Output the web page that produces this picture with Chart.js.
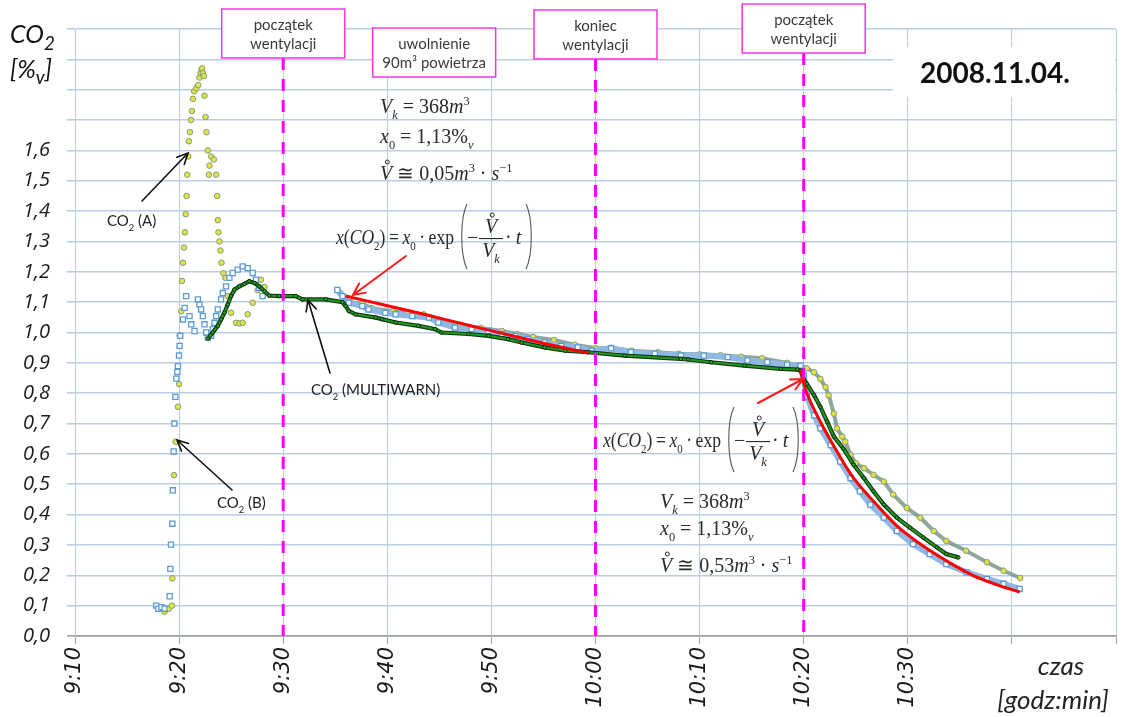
<!doctype html>
<html lang="pl">
<head>
<meta charset="utf-8">
<title>CO2 - 2008.11.04.</title>
<style>
  html, body { margin: 0; padding: 0; background: #fff; }
  .chart-container { width: 1125px; height: 717px; }
</style>
<script src="https://cdn.jsdelivr.net/npm/chart.js@4.4.0/dist/chart.umd.min.js"></script>
</head>
<body>
<div class="chart-container"><canvas id="co2Chart"></canvas></div>
<script>
// czas w minutach po godz. 9:00, stężenie CO2 w %v
const timeA = [18.2, 18.6, 19.0, 19.3, 19.35, 19.51, 19.67, 19.89, 19.99, 20.05, 20.21,
  20.27, 20.37, 20.47, 20.56, 20.63, 20.72, 20.78, 20.88, 20.94, 21.04, 21.14, 21.23, 21.33,
  21.45, 21.65, 21.84, 21.96, 22.06, 22.16, 22.22, 22.28, 22.38, 22.44, 22.54, 22.63, 22.76,
  22.86, 22.92, 23.08, 23.34, 23.56, 23.66, 23.72, 23.78, 23.88, 23.97, 24.07, 24.26, 24.45,
  24.67, 24.99, 25.47, 25.8, 26.11, 26.59, 27.07, 27.54, 27.86, 28.2,
  31.0,
  35.5, 36.5, 37.6, 38.5, 40.5, 42.0, 43.5, 45.0, 47.0, 49.0, 51.0, 52.5, 54.0, 56.0, 58.0,
  60.0, 61.5, 63.5, 66.0, 68.0, 70.0, 72.0, 74.0, 76.0, 78.4, 79.7,
  80.3, 81.0, 81.6, 82.1, 82.4, 82.9, 83.2, 83.7, 84.0, 84.5, 85.0, 85.8, 86.7, 87.7, 88.6,
  89.9, 91.2, 92.5, 93.7, 95.6, 97.6, 99.2, 100.8];
const co2A = [0.09, 0.08, 0.09, 0.10, 0.19, 0.53, 0.64, 0.755, 0.83, 0.99, 1.07,
  1.17, 1.23, 1.28, 1.33, 1.39, 1.45, 1.52, 1.58, 1.63, 1.66, 1.70, 1.73, 1.77,
  1.795, 1.805, 1.815, 1.84, 1.855, 1.868, 1.87, 1.855, 1.845, 1.78, 1.71, 1.66, 1.60,
  1.52, 1.55, 1.58, 1.57, 1.52, 1.45, 1.37, 1.33, 1.30, 1.27, 1.23, 1.195, 1.18,
  1.12, 1.065, 1.032, 1.03, 1.032, 1.06, 1.098, 1.14, 1.174, 1.15,
  null,
  1.13, 1.10, 1.095, 1.08, 1.07, 1.065, 1.06, 1.04, 1.025, 1.015, 1.005, 0.995, 0.985, 0.975, 0.96,
  0.948, 0.95, 0.94, 0.935, 0.93, 0.928, 0.925, 0.92, 0.915, 0.90, 0.891,
  0.882, 0.869, 0.847, 0.82, 0.793, 0.733, 0.684, 0.657, 0.64, 0.597, 0.569, 0.553, 0.531, 0.509, 0.466,
  0.422, 0.39, 0.346, 0.313, 0.281, 0.243, 0.215, 0.191];

const timeB = [17.8, 18.0, 18.3, 18.6, 19.09, 19.16, 19.22, 19.35, 19.4, 19.48, 19.54, 19.64,
  19.73, 19.83, 19.89, 19.99, 20.05, 20.11, 20.37, 20.53, 20.68, 21.0, 21.16, 21.48, 21.8,
  21.96, 22.12, 22.28, 22.44, 22.6, 22.76, 23.08, 23.24, 23.4, 23.56, 23.72, 24.03, 24.2,
  24.51, 24.83, 25.15, 25.63, 26.11, 26.59, 27.07, 27.38, 27.7, 28.02,
  31.0,
  35.2, 35.7, 36.3, 37.6, 38.2, 39.8, 40.8, 42.4, 44.0, 44.9, 46.5, 48.1, 49.7, 51.0, 52.3,
  53.5, 55.1, 56.7, 58.3, 59.6, 61.5, 63.4, 65.7, 68.2, 70.4, 72.7, 74.6, 76.5, 78.4, 79.7,
  80.0, 80.3, 81.0, 81.6, 82.6, 83.5, 84.5, 85.4, 86.4, 87.7, 88.95, 90.5, 92.1, 93.7, 95.65,
  97.6, 99.2, 100.75];
const co2B = [0.10, 0.09, 0.095, 0.09, 0.131, 0.221, 0.301, 0.37, 0.48, 0.608, 0.70, 0.788,
  0.848, 0.87, 0.889, 0.924, 0.956, 0.989, 1.043, 1.081, 1.12, 1.054, 1.027, 1.005, 1.109,
  1.092, 1.076, 1.054, 1.027, 1.0, 0.983, 0.989, 1.011, 1.032, 1.054, 1.076, 1.109, 1.13,
  1.152, 1.18, 1.196, 1.207, 1.218, 1.212, 1.196, 1.174, 1.147, 1.12,
  null,
  1.14, 1.12, 1.098, 1.087, 1.076, 1.065, 1.06, 1.054, 1.049, 1.033, 1.016, 1.011, 1.005, 0.995, 0.989,
  0.978, 0.967, 0.956, 0.951, 0.94, 0.948, 0.935, 0.93, 0.924, 0.924, 0.919, 0.908, 0.902, 0.894, 0.891,
  0.858, 0.79, 0.727, 0.684, 0.629, 0.575, 0.52, 0.477, 0.433, 0.39, 0.346, 0.303, 0.27, 0.237, 0.21,
  0.188, 0.172, 0.155];

const timeM = [22.76, 23.24, 23.72, 24.03, 24.35, 24.67, 24.99, 25.31, 25.79, 26.27,
  26.75, 27.23, 27.7, 28.2, 28.66, 29.6, 31.2, 31.85, 34.1, 35.7,
  36.0, 36.3, 36.95, 38.9, 39.5, 40.8, 43.0, 44.6, 45.2, 47.8,
  49.7, 51.6, 52.9, 55.1, 57.1, 59.3, 62.8, 68.2, 68.9, 71.1,
  74.3, 77.8, 79.4, 79.7, 80.0, 80.3, 81.0, 81.6, 82.25, 82.9,
  83.8, 84.8, 85.8, 86.7, 87.7, 88.95, 90.2, 91.5, 92.8, 93.7, 94.85];
const co2M = [0.98, 1.0, 1.022, 1.043, 1.065, 1.092, 1.12, 1.141, 1.152, 1.16,
  1.169, 1.163, 1.152, 1.136, 1.122, 1.12, 1.12, 1.109, 1.109, 1.10,
  1.087, 1.071, 1.06, 1.049, 1.044, 1.033, 1.022, 1.011, 1.0, 0.995,
  0.989, 0.978, 0.967, 0.951, 0.94, 0.935, 0.924, 0.913, 0.911, 0.902,
  0.891, 0.88, 0.878, 0.874, 0.847, 0.831, 0.793, 0.755, 0.706, 0.657,
  0.618, 0.564, 0.52, 0.477, 0.433, 0.39, 0.357, 0.324, 0.292, 0.27, 0.259];

// krzywe dopasowania x(CO2) = x0 * exp(-V/Vk * t)
const timeFit1 = [36.0, 39.8, 44.0, 47.8, 51.9, 55.1, 59.3];
const co2Fit1 = [1.12, 1.09, 1.056, 1.024, 0.99, 0.964, 0.932];
const timeFit2 = [79.7, 80.3, 81.6, 83.2, 84.8, 86.7, 88.95, 91.2, 93.7, 96.3, 98.8, 100.75];
const co2Fit2 = [0.875, 0.80, 0.706, 0.608, 0.52, 0.444, 0.363, 0.303, 0.248, 0.199, 0.166, 0.145];

// zdarzenia (linie przerywane)
const eventTimes = [30, 44.5, 60, 80];
const eventLabels = [['początek', 'wentylacji'], ['uwolnienie', '90m³ powietrza'], ['koniec', 'wentylacji'], ['początek', 'wentylacji']];
const eventLine = [true, false, true, true];

const dateLabel = '2008.11.04.';

function pairs(t, v) {
	return t.map((x, i) => ({ x: x, y: v[i] }));
}
function clock(v) {
	const h = 9 + Math.floor(v / 60);
	const m = Math.round(v % 60);
	return h + ':' + (m < 10 ? '0' + m : m);
}

// tekst z indeksami dolnymi/górnymi
function drawRuns(ctx, x, y, runs, o) {
	const size = o.size;
	const parts = runs.map(r => {
		const s = (r.sub || r.sup) ? size * (o.subScale || 0.62) : size;
		const font = (r.i ? 'italic ' : '') + (r.b ? 'bold ' : '') + s + 'px "' + o.family + '"';
		ctx.font = font;
		return { r: r, font: font, w: ctx.measureText(r.t).width };
	});
	const total = parts.reduce((a, p) => a + p.w, 0);
	const k = o.width ? o.width / total : 1;
	const start = o.align === 'center' ? x - total * k / 2 : x;
	ctx.save();
	ctx.translate(start, y);
	ctx.scale(k, 1);
	ctx.fillStyle = o.color || '#222';
	ctx.strokeStyle = o.color || '#222';
	ctx.textBaseline = 'alphabetic';
	ctx.textAlign = 'left';
	let cx = 0;
	parts.forEach(p => {
		ctx.font = p.font;
		const dy = p.r.sub ? size * (o.subShift || 0.3) : p.r.sup ? -size * 0.42 : 0;
		ctx.fillText(p.r.t, cx, dy);
		if (p.r.ring) {
			ctx.beginPath();
			ctx.lineWidth = 1;
			ctx.arc(cx + p.w * 0.6, -size * 0.9, size * 0.1, 0, Math.PI * 2);
			ctx.stroke();
		}
		cx += p.w;
	});
	ctx.restore();
}

function paren(ctx, x, top, bot, side) {
	const b = 7 * side, h = bot - top;
	ctx.beginPath();
	ctx.moveTo(x, top);
	ctx.bezierCurveTo(x + b, top + h * 0.22, x + b, bot - h * 0.22, x, bot);
	ctx.stroke();
}

function arrow(ctx, x1, y1, x2, y2, color, width, head) {
	const a = Math.atan2(y2 - y1, x2 - x1);
	ctx.save();
	ctx.strokeStyle = color;
	ctx.lineWidth = width;
	ctx.lineCap = 'round';
	ctx.beginPath();
	ctx.moveTo(x1, y1);
	ctx.lineTo(x2, y2);
	ctx.moveTo(x2 - head * Math.cos(a - 0.45), y2 - head * Math.sin(a - 0.45));
	ctx.lineTo(x2, y2);
	ctx.lineTo(x2 - head * Math.cos(a + 0.45), y2 - head * Math.sin(a + 0.45));
	ctx.stroke();
	ctx.restore();
}

const SERIF = 'Liberation Serif';
const MATH = { size: 20, family: SERIF, color: '#2a2a2a', subScale: 0.62 };

function drawFormula(ctx, x0, base) {
	drawRuns(ctx, x0, base, [{ t: 'x', i: 1 }, { t: '(' }, { t: 'CO', i: 1 }, { t: '2', sub: 1 }, { t: ')' },
		{ t: '\u2009=\u2009' }, { t: 'x', i: 1 }, { t: '0', sub: 1 }, { t: '\u2009·\u2009exp' }], Object.assign({ width: 118 }, MATH));
	ctx.save();
	ctx.strokeStyle = '#555';
	ctx.lineWidth = 1.1;
	paren(ctx, x0 + 131, base - 40, base + 25, -1);
	paren(ctx, x0 + 190, base - 40, base + 25, 1);
	ctx.fillStyle = '#2a2a2a';
	ctx.fillRect(x0 + 143, base - 6, 24, 1.1);
	ctx.restore();
	drawRuns(ctx, x0 + 131, base, [{ t: '−' }], MATH);
	drawRuns(ctx, x0 + 155, base - 11, [{ t: 'V', i: 1, ring: 1 }], Object.assign({ align: 'center' }, MATH));
	drawRuns(ctx, x0 + 155, base + 13, [{ t: 'V', i: 1 }, { t: 'k', i: 1, sub: 1 }], Object.assign({ align: 'center' }, MATH));
	drawRuns(ctx, x0 + 169, base, [{ t: '·\u2009' }, { t: 't', i: 1 }], MATH);
}

function drawParams(ctx, x, y1, y2, y3, flow) {
	drawRuns(ctx, x, y1, [{ t: 'V', i: 1 }, { t: 'k', i: 1, sub: 1 }, { t: ' = 368' }, { t: 'm', i: 1 }, { t: '3', sup: 1 }], MATH);
	drawRuns(ctx, x, y2, [{ t: 'x', i: 1 }, { t: '0', sub: 1 }, { t: ' = 1,13%' }, { t: 'v', i: 1, sub: 1 }], MATH);
	drawRuns(ctx, x, y3, [{ t: 'V', i: 1, ring: 1 }, { t: ' ≅ ' + flow }, { t: 'm', i: 1 }, { t: '3', sup: 1 }, { t: ' · ' }, { t: 's', i: 1 }, { t: '−1', sup: 1 }], MATH);
}

const decorPlugin = {
	id: 'decor',
	beforeDatasetsDraw(chart) {
		const ctx = chart.ctx;
		ctx.save();
		ctx.fillStyle = '#fff';
		ctx.fillRect(893, 47, 222, 50);
		ctx.restore();
	},
	afterDatasetsDraw(chart) {
		const ctx = chart.ctx;
		const xs = chart.scales.x;
		const area = chart.chartArea;
		const boxTop = [9, 28, 10, 4];
		const bw = 123, bh = 49;

		// linie przerywane i opisy zdarzeń
		eventTimes.forEach((t, i) => {
			const px = xs.getPixelForValue(t);
			if (eventLine[i]) {
				ctx.save();
				ctx.strokeStyle = '#ff00ff';
				ctx.lineWidth = 3;
				ctx.setLineDash([12, 9]);
				ctx.beginPath();
				ctx.moveTo(px, boxTop[i] + bh);
				ctx.lineTo(px, area.bottom);
				ctx.stroke();
				ctx.restore();
			}
			ctx.save();
			ctx.fillStyle = '#fff';
			ctx.strokeStyle = '#ff33dd';
			ctx.lineWidth = 1.5;
			ctx.fillRect(px - bw / 2, boxTop[i], bw, bh);
			ctx.strokeRect(px - bw / 2, boxTop[i], bw, bh);
			ctx.fillStyle = '#3a3a3a';
			ctx.font = '15px Lato';
			ctx.textAlign = 'center';
			ctx.textBaseline = 'middle';
			ctx.fillText(eventLabels[i][0], px, boxTop[i] + 16);
			ctx.fillText(eventLabels[i][1], px, boxTop[i] + 35);
			ctx.restore();
		});

		// data
		ctx.save();
		ctx.fillStyle = '#111';
		ctx.font = 'bold 28px Lato';
		ctx.textAlign = 'center';
		ctx.textBaseline = 'middle';
		ctx.fillText(dateLabel, 995, 74);
		ctx.restore();

		// tytuły osi
		drawRuns(ctx, 10, 43, [{ t: 'CO', i: 1 }, { t: '2', i: 1, sub: 1 }], { size: 25, family: 'Lato', color: '#111', subScale: 0.75, subShift: 0.28 });
		drawRuns(ctx, 10, 78, [{ t: '[%', i: 1 }, { t: 'v', i: 1, sub: 1 }, { t: ']', i: 1 }], { size: 25, family: 'Lato', color: '#111', subScale: 0.75, subShift: 0.22 });
		ctx.save();
		ctx.fillStyle = '#222';
		ctx.font = 'italic 26px Lato';
		ctx.textAlign = 'center';
		ctx.textBaseline = 'middle';
		ctx.fillText('czas', 1061, 667);
		ctx.fillText('[godz:min]', 1053, 701);
		ctx.restore();

		// opisy serii i strzałki
		const LAB = { size: 15, family: 'Lato', color: '#222' };
		drawRuns(ctx, 107, 226, [{ t: 'CO' }, { t: '2', sub: 1 }, { t: ' (A)' }], LAB);
		drawRuns(ctx, 217, 508, [{ t: 'CO' }, { t: '2', sub: 1 }, { t: ' (B)' }], LAB);
		drawRuns(ctx, 311, 395, [{ t: 'CO' }, { t: '2', sub: 1 }, { t: ' (MULTIWARN)' }], LAB);
		arrow(ctx, 142, 201, 188, 153, '#111', 1.6, 12);
		arrow(ctx, 232, 490, 177, 440, '#111', 1.6, 12);
		arrow(ctx, 330, 373, 308, 300, '#111', 1.6, 12);
		arrow(ctx, 406, 256, 353, 295, '#ff1a1a', 2, 13);
		arrow(ctx, 758, 403, 803, 379, '#ff1a1a', 2, 13);

		// wzory
		drawParams(ctx, 380, 113, 143, 180, '0,05');
		drawFormula(ctx, 336, 244);
		drawFormula(ctx, 603, 447);
		drawParams(ctx, 660, 508, 535, 572, '0,53');
	}
};

const gridBlue = '#b9cde5';

new Chart(document.getElementById('co2Chart'), {
	type: 'line',
	data: {
		datasets: [
			{
				label: 'fit1',
				data: pairs(timeFit1, co2Fit1),
				borderColor: '#ff0000',
				borderWidth: 3,
				pointRadius: 0,
				tension: 0.35,
				order: 0
			},
			{
				label: 'fit2',
				data: pairs(timeFit2, co2Fit2),
				borderColor: '#ff0000',
				borderWidth: 3,
				pointRadius: 0,
				tension: 0.35,
				order: 0
			},
			{
				label: 'CO2 (MULTIWARN)',
				data: pairs(timeM, co2M),
				borderColor: '#1f9a1f',
				borderWidth: 2,
				pointRadius: 1.8,
				pointBackgroundColor: '#25a825',
				pointBorderColor: '#0a2a0a',
				pointBorderWidth: 1,
				tension: 0,
				order: 1
			},
			{
				label: 'CO2 (MULTIWARN) kontur',
				data: pairs(timeM, co2M),
				borderColor: '#123212',
				borderWidth: 4.2,
				pointRadius: 0,
				tension: 0,
				order: 2
			},
			{
				label: 'CO2 (B)',
				data: pairs(timeB, co2B),
				borderColor: '#8fb9e4',
				borderWidth: 6,
				spanGaps: false,
				segment: { borderColor: c => c.p0.parsed.x < 30 ? 'rgba(0,0,0,0)' : '#8fb9e4' },
				pointStyle: 'rect',
				pointRadius: 3.6,
				pointBackgroundColor: 'rgba(255,255,255,0.95)',
				pointBorderColor: '#5b9bd5',
				pointBorderWidth: 1.3,
				tension: 0,
				order: 3
			},
			{
				label: 'CO2 (A)',
				data: pairs(timeA, co2A),
				borderColor: 'rgba(125,150,135,0.85)',
				borderWidth: 4,
				spanGaps: false,
				segment: { borderColor: c => c.p0.parsed.x < 30 ? 'rgba(0,0,0,0)' : 'rgba(125,150,135,0.85)' },
				pointRadius: 2.8,
				pointBackgroundColor: '#e4e43a',
				pointBorderColor: '#7d9a8c',
				pointBorderWidth: 1,
				tension: 0,
				order: 4
			}
		]
	},
	options: {
		animation: false,
		responsive: true,
		maintainAspectRatio: false,
		layout: { padding: { top: 25, right: 9, left: 0, bottom: 0 } },
		plugins: {
			legend: { display: false },
			tooltip: { enabled: false }
		},
		scales: {
			x: {
				type: 'linear',
				min: 10,
				max: 110,
				ticks: {
					stepSize: 10,
					autoSkip: false,
					minRotation: 90,
					maxRotation: 90,
					padding: 3,
					color: '#1a1a1a',
					font: { family: 'DejaVu Sans', style: 'italic', size: 21, lineHeight: 0.25 },
					callback: v => v > 95 ? '' : clock(v)
				},
				grid: { color: gridBlue, lineWidth: 1, tickLength: 8, tickColor: '#a0a0a0' },
				border: { color: '#a0a0a0', width: 1.5 },
				afterFit: s => { s.height = 81; }
			},
			y: {
				min: 0,
				max: 2,
				ticks: {
					stepSize: 0.1,
					padding: 17,
					color: '#1a1a1a',
					font: { family: 'Open Sans', style: 'italic', size: 20 },
					callback: v => v > 1.65 ? '' : v.toFixed(1).replace('.', ',')
				},
				grid: {
					color: c => c.tick && Math.abs(c.tick.value) < 1e-6 ? '#a0a0a0' : gridBlue,
					lineWidth: 1.6,
					tickLength: 8
				},
				border: { color: gridBlue, width: 1 },
				afterFit: s => { s.width = 75; }
			}
		}
	},
	plugins: [decorPlugin]
});
</script>
</body>
</html>
